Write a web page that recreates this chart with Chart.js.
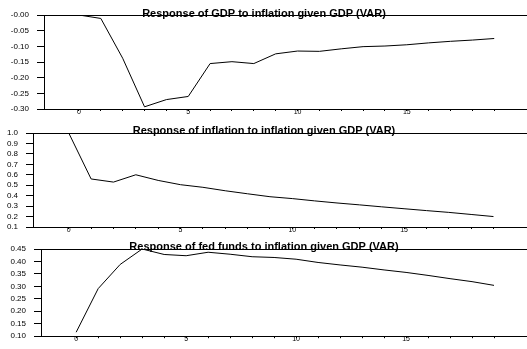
<!DOCTYPE html>
<html>
<head>
<meta charset="utf-8">
<script src="https://cdn.jsdelivr.net/npm/chart.js@4/dist/chart.umd.min.js"></script>
<style>
  html, body { margin: 0; padding: 0; background: #fff; }
  #wrap { position: relative; width: 527px; height: 349px; overflow: hidden; }
  #wrap canvas { position: absolute; left: 0; top: 0; }
</style>
</head>
<body>
<div id="wrap">
  <canvas id="c1" width="527" height="349"></canvas>
  <canvas id="c2" width="527" height="349"></canvas>
  <canvas id="c3" width="527" height="349"></canvas>
</div>
<script>
// Impulse-response horizons (periods after the shock)
const horizons = [0,1,2,3,4,5,6,7,8,9,10,11,12,13,14,15,16,17,18,19];
const xTickValues = horizons;

// Response of GDP to an inflation shock
const gdpResponse = [0.000,-0.011,-0.138,-0.293,-0.270,-0.260,-0.155,-0.149,-0.155,-0.124,
                     -0.115,-0.116,-0.108,-0.101,-0.099,-0.095,-0.089,-0.084,-0.080,-0.075];
// Response of inflation to an inflation shock
const inflationResponse = [1.000,0.560,0.530,0.600,0.546,0.505,0.480,0.447,0.418,0.390,
                           0.372,0.350,0.330,0.312,0.293,0.275,0.257,0.240,0.220,0.200];
// Response of the fed funds rate to an inflation shock
const fedFundsResponse = [0.116,0.291,0.388,0.450,0.428,0.423,0.437,0.429,0.419,0.416,
                          0.409,0.396,0.386,0.377,0.366,0.356,0.344,0.331,0.319,0.304];

const gdpTickValues = [-0.30,-0.25,-0.20,-0.15,-0.10,-0.05,0.00];
const gdpTickLabels = ['-0.30','-0.25','-0.20','-0.15','-0.10','-0.05','-0.00'];
const inflationTickValues = [0.1,0.2,0.3,0.4,0.5,0.6,0.7,0.8,0.9,1.0];
const inflationTickLabels = ['0.1','0.2','0.3','0.4','0.5','0.6','0.7','0.8','0.9','1.0'];
const fedTickValues = [0.10,0.15,0.20,0.25,0.30,0.35,0.40,0.45];
const fedTickLabels = ['0.10','0.15','0.20','0.25','0.30','0.35','0.40','0.45'];

const titles = [
  'Response of GDP to inflation given GDP (VAR)',
  'Response of inflation to inflation given GDP (VAR)',
  'Response of fed funds to inflation given GDP (VAR)'
];

const FONT = '"Liberation Sans", Arial, Helvetica, sans-serif';
const CANVAS_H = 349;

// Title sitting on the top frame line, plus the top frame line itself
const frameTitle = {
  id: 'frameTitle',
  afterDraw(chart, args, opts) {
    const ctx = chart.ctx, a = chart.chartArea;
    ctx.save();
    ctx.strokeStyle = '#000';
    ctx.lineWidth = 1;
    ctx.beginPath();
    ctx.moveTo(a.left, Math.round(a.top) + 0.5);
    ctx.lineTo(chart.width, Math.round(a.top) + 0.5);
    ctx.stroke();
    ctx.fillStyle = '#000';
    ctx.font = 'bold 11px ' + FONT;
    ctx.textAlign = 'center';
    ctx.textBaseline = 'alphabetic';
    ctx.fillText(opts.text, 264, a.top + opts.dy);
    ctx.restore();
  }
};

function panel(id, data, yVals, yLabels, geom, title) {
  const labelOf = (v) => {
    let best = 0;
    yVals.forEach((t, i) => { if (Math.abs(t - v) < Math.abs(yVals[best] - v)) best = i; });
    return yLabels[best];
  };
  return new Chart(document.getElementById(id), {
    type: 'line',
    data: {
      datasets: [{
        data: horizons.map((h, i) => ({ x: h, y: data[i] })),
        borderColor: '#000',
        borderWidth: 1,
        pointRadius: 0,
        tension: 0,
        fill: false
      }]
    },
    options: {
      responsive: false,
      animation: false,
      events: [],
      layout: { padding: { left: 0, right: 0, top: geom.top, bottom: 0 } },
      plugins: {
        legend: { display: false },
        tooltip: { enabled: false },
        frameTitle: { text: title, dy: geom.titleDy }
      },
      scales: {
        x: {
          type: 'linear',
          min: -1.6,
          max: 20.5,
          afterBuildTicks: (s) => { s.ticks = xTickValues.map(v => ({ value: v })); },
          afterFit: (s) => { s.height = CANVAS_H - geom.bottom; },
          ticks: {
            autoSkip: false,
            maxRotation: 0,
            padding: -3,
            color: '#000',
            font: { family: FONT, size: 7 },
            callback: (v) => (v % 5 === 0 ? String(v) : '')
          },
          grid: { drawOnChartArea: false, drawTicks: true, tickLength: 2, color: '#000', lineWidth: 1 },
          border: { display: true, color: '#000', width: 1 }
        },
        y: {
          type: 'linear',
          min: yVals[0],
          max: yVals[yVals.length - 1],
          afterBuildTicks: (s) => { s.ticks = yVals.map(v => ({ value: v })); },
          afterFit: (s) => { s.width = geom.left; },
          ticks: {
            autoSkip: false,
            padding: 8,
            color: '#000',
            font: { family: FONT, size: 8 },
            callback: (v) => labelOf(v)
          },
          grid: { drawOnChartArea: false, drawTicks: true, tickLength: 7, color: '#000', lineWidth: 1 },
          border: { display: true, color: '#000', width: 1 }
        }
      }
    },
    plugins: [frameTitle]
  });
}

panel('c1', gdpResponse, gdpTickValues, gdpTickLabels, { left: 44, top: 15, bottom: 109, titleDy: 1.5 }, titles[0]);
panel('c2', inflationResponse, inflationTickValues, inflationTickLabels, { left: 33, top: 133, bottom: 227, titleDy: 1 }, titles[1]);
panel('c3', fedFundsResponse, fedTickValues, fedTickLabels, { left: 41, top: 249, bottom: 343, titleDy: 1 }, titles[2]);
</script>
</body>
</html>
